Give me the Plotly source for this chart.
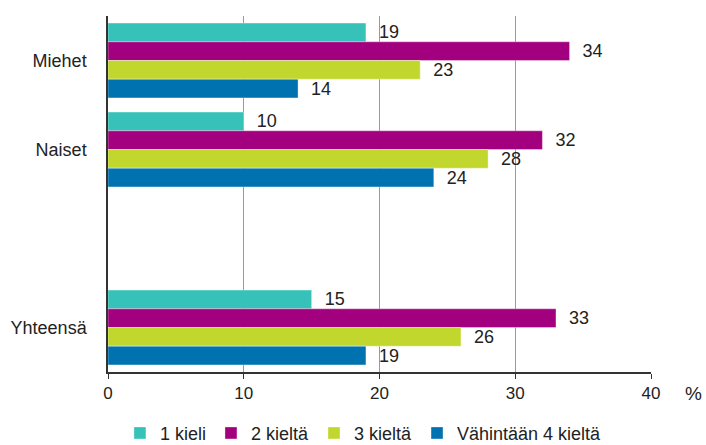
import plotly.graph_objects as go

# categories (blank slot separates the total from the groups)
categories = ["Miehet", "Naiset", " ", "Yhteensä"]

series_names = ["1 kieli", "2 kieltä", "3 kieltä", "Vähintään 4 kieltä"]
one_language = [19, 10, None, 15]
two_languages = [34, 32, None, 33]
three_languages = [23, 28, None, 26]
four_plus_languages = [14, 24, None, 19]

x_ticks = [0, 10, 20, 30, 40]

COLORS = ["#36c1b9", "#a2007e", "#c1d72e", "#0072b0"]
FONT = "Liberation Sans, Arial, sans-serif"

fig = go.Figure()
for name, values, color in zip(
    series_names,
    [one_language, two_languages, three_languages, four_plus_languages],
    COLORS,
):
    fig.add_trace(
        go.Bar(
            y=categories,
            x=values,
            name=name,
            orientation="h",
            marker=dict(color=color, line=dict(color="rgba(255,255,255,0.6)", width=0.6)),
            text=[f"  {v}" if v is not None else "" for v in values],
            textposition="outside",
            constraintext="none",
            textfont=dict(size=18, color="#222", family=FONT),
            cliponaxis=False,
        )
    )

fig.update_layout(
    width=706,
    height=445,
    margin=dict(l=108, r=55, t=16, b=73, autoexpand=False),
    barmode="group",
    bargap=0.16,
    bargroupgap=0,
    plot_bgcolor="white",
    paper_bgcolor="white",
    font=dict(family=FONT, size=17, color="#222"),
    showlegend=True,
    legend=dict(
        orientation="h",
        x=0.022,
        xanchor="left",
        y=-0.172,
        yanchor="middle",
        font=dict(size=18, color="#222"),
        itemwidth=30,
        traceorder="normal",
    ),
)

fig.update_xaxes(
    range=[0, 40],
    tickvals=x_ticks,
    showgrid=True,
    gridcolor="#9a9a9a",
    gridwidth=1,
    zeroline=False,
    showline=True,
    linecolor="#333",
    linewidth=1.5,
    ticks="outside",
    ticklen=5,
    tickcolor="#333",
    tickfont=dict(size=17, color="#222"),
    automargin=False,
)

fig.update_yaxes(
    categoryorder="array",
    categoryarray=categories,
    autorange="reversed",
    showgrid=False,
    showline=True,
    linecolor="#333",
    linewidth=1.5,
    ticks="",
    ticklabelstandoff=16,
    tickfont=dict(size=18, color="#222"),
    automargin=False,
)

# unit label to the right of the last x tick
fig.add_annotation(
    text="%",
    xref="paper",
    yref="paper",
    x=1.079,
    xanchor="center",
    y=0,
    yanchor="middle",
    yshift=-21,
    showarrow=False,
    font=dict(size=19, color="#222"),
)

# drop the default page margin so the figure sits at the window's corner
fig.write_html(
    "out.html",
    config={"displayModeBar": False},
    post_script="document.body.style.margin='0';",
)
